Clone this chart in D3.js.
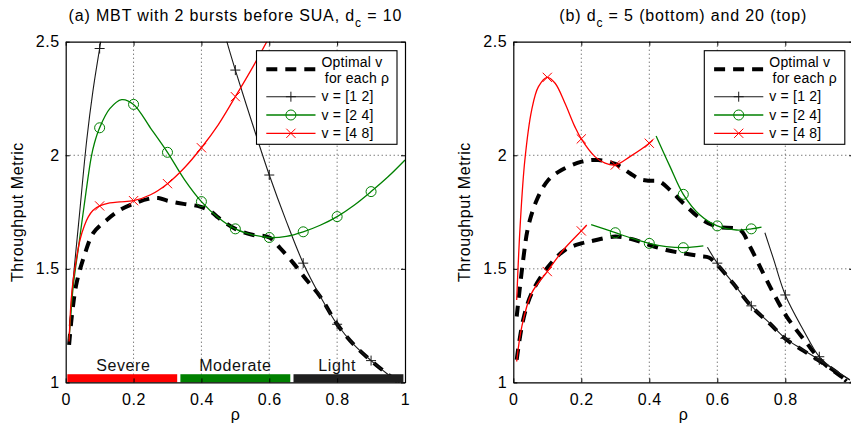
<!DOCTYPE html>
<html>
<head>
<meta charset="utf-8">
<script src="https://cdn.jsdelivr.net/npm/d3@7"></script>
<style>
  html, body { margin: 0; padding: 0; background: #fff; }
  svg { display: block; font-family: "Liberation Sans", Arial, Helvetica, sans-serif; }
</style>
</head>
<body>
<svg id="chart" width="851" height="431"></svg>
<script>
// ---------------- data ----------------
// shared axis ticks
const xTickValues = [0, 0.2, 0.4, 0.6, 0.8, 1];
const yTickValues = [1, 1.5, 2, 2.5];
const xGridValues = [0.2, 0.4, 0.6, 0.8];
const yGridValues = [1.5, 2];

// panel (a): MBT with 2 bursts before SUA, d_c = 10
const aOptRho = [0.01, 0.019, 0.032, 0.057, 0.081, 0.121, 0.16, 0.204, 0.244, 0.273, 0.3, 0.347, 0.396, 0.43, 0.45, 0.5, 0.55, 0.6, 0.632, 0.671, 0.71, 0.75, 0.8, 0.85, 0.9, 0.95, 0.99];
const aOptVal = [1.165, 1.304, 1.437, 1.568, 1.657, 1.715, 1.759, 1.789, 1.808, 1.812, 1.80, 1.786, 1.774, 1.75, 1.725, 1.676, 1.65, 1.638, 1.591, 1.525, 1.451, 1.378, 1.256, 1.165, 1.096, 1.035, 0.99];

const aV12Rho = [0.01, 0.02, 0.04, 0.062, 0.08, 0.1, 0.13, 0.2, 0.3, 0.4, 0.45, 0.475, 0.5, 0.55, 0.6, 0.65, 0.7, 0.75, 0.8, 0.85, 0.9, 0.95, 0.99];
const aV12Val = [1.19, 1.415, 1.73, 2.067, 2.28, 2.47, 2.74, 3.1, 3.25, 2.95, 2.64, 2.5, 2.375, 2.14, 1.913, 1.71, 1.525, 1.38, 1.256, 1.165, 1.096, 1.035, 0.99];

const aV24Rho = [0.01, 0.022, 0.04, 0.06, 0.075, 0.085, 0.1, 0.13, 0.165, 0.2, 0.25, 0.3, 0.35, 0.4, 0.45, 0.5, 0.55, 0.6, 0.65, 0.7, 0.75, 0.8, 0.85, 0.9, 0.95, 1.0];
const aV24Val = [1.19, 1.42, 1.62, 1.84, 1.99, 2.055, 2.121, 2.205, 2.245, 2.224, 2.12, 2.013, 1.893, 1.796, 1.725, 1.676, 1.65, 1.638, 1.643, 1.663, 1.692, 1.73, 1.78, 1.84, 1.905, 1.979];

const aV48Rho = [0.01, 0.016, 0.022, 0.03, 0.042, 0.055, 0.067, 0.08, 0.1, 0.13, 0.16, 0.2, 0.25, 0.3, 0.35, 0.4, 0.45, 0.5, 0.55, 0.6, 0.65];
const aV48Val = [1.18, 1.36, 1.45, 1.53, 1.627, 1.69, 1.73, 1.757, 1.777, 1.79, 1.795, 1.80, 1.826, 1.875, 1.945, 2.033, 2.135, 2.258, 2.385, 2.52, 2.66];

// load regions along the bottom of panel (a)
const regionNames = ["Severe", "Moderate", "Light"];
const regionFrom = [0, 1 / 3, 2 / 3];
const regionTo = [1 / 3, 2 / 3, 1];
const regionLabelRho = [0.17, 0.5, 0.8];

// panel (b): d_c = 20 (top set)
const bTopOptRho = [0.01, 0.029, 0.044, 0.069, 0.103, 0.142, 0.201, 0.25, 0.3, 0.343, 0.371, 0.4, 0.43, 0.461, 0.5, 0.549, 0.598, 0.667, 0.696, 0.735, 0.765, 0.804, 0.863, 0.912, 0.971, 0.99];
const bTopOptVal = [1.29, 1.539, 1.686, 1.803, 1.891, 1.935, 1.972, 1.979, 1.962, 1.921, 1.895, 1.888, 1.884, 1.847, 1.789, 1.723, 1.686, 1.671, 1.598, 1.481, 1.393, 1.29, 1.173, 1.085, 1.019, 0.995];

const bTopV48Rho = [0.01, 0.02, 0.034, 0.054, 0.074, 0.1, 0.123, 0.152, 0.181, 0.2, 0.24, 0.27, 0.3, 0.343, 0.4, 0.41];
const bTopV48Val = [1.363, 1.686, 1.979, 2.199, 2.302, 2.343, 2.317, 2.229, 2.126, 2.072, 1.994, 1.965, 1.957, 1.994, 2.053, 2.067];

const bTopV24Rho = [0.42, 0.461, 0.5, 0.549, 0.6, 0.657, 0.7, 0.73];
const bTopV24Val = [2.085, 1.95, 1.828, 1.737, 1.689, 1.671, 1.676, 1.684];

const bTopV12Rho = [0.74, 0.765, 0.8, 0.853, 0.9, 0.95, 0.99];
const bTopV12Val = [1.659, 1.545, 1.385, 1.231, 1.113, 1.05, 1.012];

// panel (b): d_c = 5 (bottom set)
const bBotOptRho = [0.01, 0.029, 0.054, 0.103, 0.152, 0.2, 0.23, 0.3, 0.35, 0.4, 0.45, 0.5, 0.55, 0.575, 0.6, 0.647, 0.7, 0.755, 0.8, 0.853, 0.9, 0.95, 0.98];
const bBotOptVal = [1.10, 1.275, 1.393, 1.51, 1.583, 1.612, 1.622, 1.642, 1.63, 1.605, 1.583, 1.568, 1.556, 1.55, 1.518, 1.435, 1.335, 1.258, 1.192, 1.14, 1.095, 1.045, 1.005];

const bBotV48Rho = [0.01, 0.025, 0.054, 0.1, 0.147, 0.2, 0.216];
const bBotV48Val = [1.092, 1.246, 1.393, 1.488, 1.583, 1.667, 1.693];

const bBotV24Rho = [0.229, 0.3, 0.35, 0.4, 0.45, 0.5, 0.559];
const bBotV24Val = [1.695, 1.659, 1.634, 1.612, 1.598, 1.593, 1.601];

const bBotV12Rho = [0.571, 0.6, 0.647, 0.7, 0.755, 0.8, 0.853, 0.9, 0.95, 0.99];
const bBotV12Val = [1.595, 1.525, 1.437, 1.337, 1.26, 1.194, 1.143, 1.099, 1.05, 1.01];

// legend entries
const legendKeys = ["opt", "v12", "v24", "v48"];
const legendText = [["Optimal v", "for each \u03c1"], ["v = [1 2]"], ["v = [2 4]"], ["v = [4 8]"]];

// ---------------- styles ----------------
const STYLE = {
  opt: { color: "#000", width: 4, dash: "11,8", marker: null },
  v12: { color: "#1a1a1a", width: 1.1, dash: null, marker: "plus" },
  v24: { color: "#008000", width: 1.3, dash: null, marker: "circle" },
  v48: { color: "#ff0000", width: 1.3, dash: null, marker: "cross" }
};
const regionColors = ["#ff0000", "#008000", "#1f1f1f"];

const svg = d3.select("#chart");
const defs = svg.append("defs");

function zip(rho, val) { return rho.map((r, i) => ({ r, v: val[i] })); }
function onTenth(r) { return r > 0.05 && r < 0.95 && Math.abs(r * 10 - Math.round(r * 10)) < 1e-6; }

function drawMarker(g, type, cx, cy, color) {
  if (type === "plus") {
    g.append("path").attr("d", `M${cx - 5},${cy}H${cx + 5}M${cx},${cy - 5}V${cy + 5}`)
      .attr("stroke", color).attr("stroke-width", 1).attr("fill", "none");
  } else if (type === "circle") {
    g.append("circle").attr("cx", cx).attr("cy", cy).attr("r", 5)
      .attr("stroke", color).attr("stroke-width", 1).attr("fill", "none");
  } else if (type === "cross") {
    const s = 4.6;
    g.append("path").attr("d", `M${cx - s},${cy - s}L${cx + s},${cy + s}M${cx - s},${cy + s}L${cx + s},${cy - s}`)
      .attr("stroke", color).attr("stroke-width", 1).attr("fill", "none");
  }
}

function drawPanel(p) {
  const x = d3.scaleLinear().domain([0, 1]).range([p.left, p.right]);
  const y = d3.scaleLinear().domain([1, 2.5]).range([p.bottom, p.top]);
  const g = svg.append("g");

  defs.append("clipPath").attr("id", p.id)
    .append("rect").attr("x", p.left).attr("y", p.top)
    .attr("width", p.right - p.left).attr("height", p.bottom - p.top);

  // dotted grid
  const grid = g.append("g").attr("stroke", "#444").attr("stroke-width", 1)
    .attr("stroke-dasharray", "1,3");
  xGridValues.forEach(t => grid.append("line")
    .attr("x1", x(t)).attr("x2", x(t)).attr("y1", p.top).attr("y2", p.bottom));
  yGridValues.forEach(t => grid.append("line")
    .attr("x1", p.left).attr("x2", p.right).attr("y1", y(t)).attr("y2", y(t)));

  // curves
  const plot = g.append("g").attr("clip-path", `url(#${p.id})`);
  const line = d3.line().x(d => x(d.r)).y(d => y(d.v)).curve(d3.curveCatmullRom.alpha(0.5));
  p.series.forEach(s => {
    const st = STYLE[s.key];
    const data = zip(s.rho, s.val);
    plot.append("path").attr("d", line(data)).attr("fill", "none")
      .attr("stroke", st.color).attr("stroke-width", st.width)
      .attr("stroke-dasharray", st.dash).attr("stroke-linejoin", "round");
    if (st.marker) {
      data.filter(d => onTenth(d.r)).forEach(d => drawMarker(plot, st.marker, x(d.r), y(d.v), st.color));
    }
  });

  // region bars with labels
  if (p.regions) {
    const barTop = y(1.036), barBot = y(1.0);
    regionNames.forEach((name, i) => {
      g.append("rect").attr("x", x(regionFrom[i]) + 1.6).attr("y", barTop)
        .attr("width", x(regionTo[i]) - x(regionFrom[i]) - 3.2).attr("height", barBot - barTop)
        .attr("fill", regionColors[i]);
      g.append("text").attr("x", x(regionLabelRho[i])).attr("y", barTop - 2.8)
        .attr("text-anchor", "middle").attr("font-size", 16).attr("letter-spacing", 0.6)
        .attr("fill", "#111").text(name);
    });
  }

  // axes: labelled bottom / left, inward ticks on all four sides;
  // x labels only where they fit inside the drawing
  const axB = g.append("g").attr("transform", `translate(0,${p.bottom})`)
    .call(d3.axisBottom(x).tickValues(xTickValues).tickSizeInner(-4).tickSizeOuter(0)
      .tickPadding(11).tickFormat(d => (x(d) + 6 <= 851 ? String(d) : "")));
  const axL = g.append("g").attr("transform", `translate(${p.left},0)`)
    .call(d3.axisLeft(y).tickValues(yTickValues).tickSizeInner(-4).tickSizeOuter(0)
      .tickPadding(6).tickFormat(d => String(d)));
  const axT = g.append("g").attr("transform", `translate(0,${p.top})`)
    .call(d3.axisTop(x).tickValues(xTickValues).tickSizeInner(-4).tickSizeOuter(0).tickFormat(""));
  const axR = g.append("g").attr("transform", `translate(${p.right},0)`)
    .call(d3.axisRight(y).tickValues(yTickValues).tickSizeInner(-4).tickSizeOuter(0).tickFormat(""));
  [axB, axL, axT, axR].forEach(a => {
    a.selectAll(".domain").attr("stroke", "#000").attr("stroke-width", 1.2);
    a.selectAll(".tick line").attr("stroke", "#000");
    a.selectAll("text").attr("font-size", 16).attr("letter-spacing", 0.6)
      .attr("font-family", "'Liberation Sans', Arial, sans-serif").attr("fill", "#000");
  });

  // titles and axis labels
  const cx = (p.left + p.right) / 2;
  const title = g.append("text").attr("x", cx).attr("y", 20.7).attr("text-anchor", "middle")
    .attr("font-size", 16).attr("letter-spacing", 0.85).attr("fill", "#000");
  title.append("tspan").text(p.title[0]);
  title.append("tspan").attr("font-size", 12).attr("dy", 6).text("c");
  title.append("tspan").attr("dy", -6).text(p.title[1]);

  g.append("text").attr("x", cx).attr("y", 420).attr("text-anchor", "middle")
    .attr("font-size", 16).attr("fill", "#000").text("\u03c1");

  g.append("text").attr("transform", `translate(${p.ylabelX},${(p.top + p.bottom) / 2}) rotate(-90)`)
    .attr("text-anchor", "middle").attr("font-size", 16).attr("letter-spacing", 0.6)
    .attr("fill", "#000").text("Throughput Metric");

  // legend
  const L = p.legendLeft, T = p.top + 9;
  const lg = g.append("g");
  lg.append("rect").attr("x", L).attr("y", T).attr("width", 140.5).attr("height", 93.6)
    .attr("fill", "#fff").attr("stroke", "#000").attr("stroke-width", 1.1);
  const rowY = [T + 18.6, T + 46, T + 64.3, T + 82.6];
  legendKeys.forEach((k, i) => {
    const st = STYLE[k];
    lg.append("line").attr("x1", L + 9.8).attr("x2", L + 59).attr("y1", rowY[i]).attr("y2", rowY[i])
      .attr("stroke", st.color).attr("stroke-width", st.width).attr("stroke-dasharray", st.dash);
    if (st.marker) drawMarker(lg, st.marker, L + 34.4, rowY[i], st.color);
    const lines = legendText[i];
    if (lines.length === 1) {
      lg.append("text").attr("x", L + 65).attr("y", rowY[i]).attr("dy", "0.33em")
        .attr("font-size", 14).attr("letter-spacing", 0.2).attr("fill", "#000").text(lines[0]);
    } else {
      lg.append("text").attr("x", L + 65).attr("y", rowY[i] - 2.6)
        .attr("font-size", 14).attr("letter-spacing", 0.2).attr("fill", "#000").text(lines[0]);
      lg.append("text").attr("x", L + 68.3).attr("y", rowY[i] + 13.4)
        .attr("font-size", 14).attr("letter-spacing", 0.2).attr("fill", "#000").text(lines[1]);
    }
  });
}

drawPanel({
  id: "clipA", left: 65.7, right: 405, top: 41.7, bottom: 382.4, ylabelX: 23.2, legendLeft: 256.5,
  title: ["(a) MBT with 2 bursts before SUA, d", " = 10"], regions: true,
  series: [
    { key: "opt", rho: aOptRho, val: aOptVal },
    { key: "v12", rho: aV12Rho, val: aV12Val },
    { key: "v24", rho: aV24Rho, val: aV24Val },
    { key: "v48", rho: aV48Rho, val: aV48Val }
  ]
});

drawPanel({
  id: "clipB", left: 513.3, right: 853.3, top: 41.7, bottom: 382.4, ylabelX: 469.8, legendLeft: 704.3,
  title: ["(b) d", " = 5 (bottom) and 20 (top)"], regions: false,
  series: [
    { key: "opt", rho: bTopOptRho, val: bTopOptVal },
    { key: "opt", rho: bBotOptRho, val: bBotOptVal },
    { key: "v12", rho: bTopV12Rho, val: bTopV12Val },
    { key: "v12", rho: bBotV12Rho, val: bBotV12Val },
    { key: "v24", rho: bTopV24Rho, val: bTopV24Val },
    { key: "v24", rho: bBotV24Rho, val: bBotV24Val },
    { key: "v48", rho: bTopV48Rho, val: bTopV48Val },
    { key: "v48", rho: bBotV48Rho, val: bBotV48Val }
  ]
});
</script>
</body>
</html>
